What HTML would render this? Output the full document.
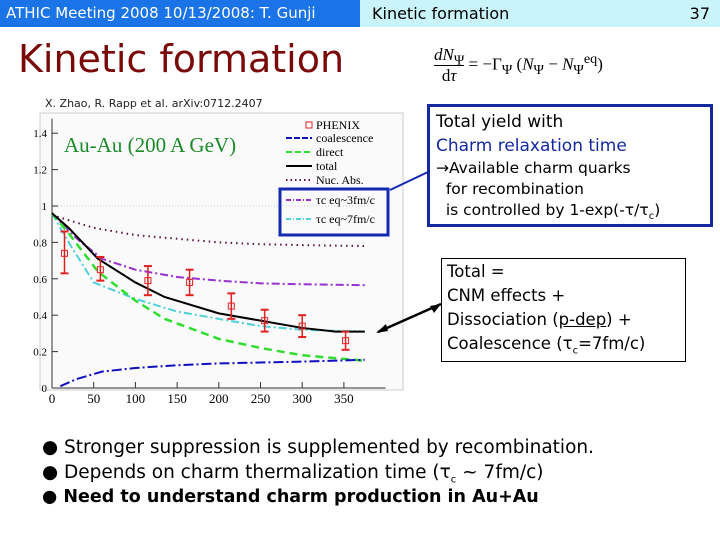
<!DOCTYPE html>
<html><head><meta charset="utf-8"><style>
body{margin:0;width:720px;height:540px;overflow:hidden;background:#fff;font-family:"DejaVu Sans","Liberation Sans",sans-serif;position:relative}
.abs{position:absolute}
sub{line-height:0}
</style></head><body>
<div class="abs" style="left:0;top:0;width:360px;height:27px;background:#1a74e8;color:#fff;font-size:15px;line-height:27px;padding-left:6px;box-sizing:border-box">ATHIC Meeting 2008 10/13/2008: T. Gunji</div>
<div class="abs" style="left:360px;top:0;width:360px;height:27px;background:#c9f4f9;color:#000;font-size:16px;line-height:27px;padding-left:12px;box-sizing:border-box">Kinetic formation<span style="position:absolute;right:10px">37</span></div>
<div class="abs" style="left:18px;top:36px;font-size:38px;color:#7a0a0a;line-height:46px">Kinetic formation</div>
<div class="abs" style="left:428px;top:31px;width:244px;height:56px;background:#fff;font-family:'Liberation Serif',serif;font-size:17px;line-height:56px;padding-left:6px;box-sizing:border-box">
<span style="display:inline-block;vertical-align:middle;text-align:center;line-height:20px"><i>dN</i><sub>Ψ</sub><br><span style="border-top:1px solid #000;display:block">d<i>τ</i></span></span> = −Γ<sub>Ψ</sub> (<i>N</i><sub>Ψ</sub> − <i>N</i><sub>Ψ</sub><sup>eq</sup>)</div>
<div class="abs" style="left:45px;top:97px;font-size:11px;color:#222">X. Zhao, R. Rapp et al. arXiv:0712.2407</div>
<svg class="abs" style="left:0;top:0" width="720" height="540" id="chart"></svg>
<div class="abs" style="left:427px;top:104px;width:286px;height:123px;border:3px solid #1428a0;box-sizing:border-box;padding:3px 0 0 6px;font-size:17px;line-height:24px">
<div>Total yield with</div><div style="color:#1428a0">Charm relaxation time</div>
<div style="font-size:15.5px;line-height:21px">→Available charm quarks<br>&nbsp; for recombination<br>&nbsp; is controlled by 1-exp(-τ/τ<sub style="font-size:10px">c</sub>)</div></div>
<div class="abs" style="left:441px;top:258px;width:245px;height:104px;border:1px solid #000;box-sizing:border-box;padding:1px 0 0 5px;font-size:16.5px;line-height:24px">Total =<br>CNM effects +<br>Dissociation (<u>p-dep</u>) +<br>Coalescence (τ<sub style="font-size:10px">c</sub>=7fm/c)</div>
<div class="abs" style="left:42px;top:436px;font-size:18.5px;line-height:24.5px;white-space:nowrap">
<div>● Stronger suppression is supplemented by recombination.</div>
<div>● Depends on charm thermalization time (τ<sub style="font-size:10px">c</sub> ~ 7fm/c)</div>
<div style="font-weight:bold;font-size:17.5px">● Need to understand charm production in Au+Au</div></div>
<script>
const xTicks=[0,50,100,150,200,250,300,350];
const yTicks=[0,0.2,0.4,0.6,0.8,1,1.2,1.4];
const dataX=[15,58,115,165,215,255,300,352];
const dataY=[0.74,0.65,0.59,0.58,0.45,0.37,0.34,0.26];
const dataLo=[0.63,0.59,0.51,0.51,0.38,0.31,0.28,0.21];
const dataHi=[0.86,0.72,0.67,0.65,0.52,0.43,0.40,0.31];
const totalX=[0,20,55,100,135,200,250,300,340,375];
const totalY=[0.96,0.88,0.71,0.58,0.50,0.41,0.37,0.33,0.31,0.31];
const directX=[0,20,55,100,135,200,250,300,375];
const directY=[0.96,0.85,0.64,0.48,0.38,0.27,0.22,0.18,0.15];
const coalX=[10,30,60,100,150,200,250,300,375];
const coalY=[0.01,0.05,0.09,0.11,0.125,0.135,0.14,0.145,0.155];
const nucX=[0,50,100,150,200,250,300,375];
const nucY=[0.95,0.88,0.84,0.82,0.80,0.79,0.785,0.78];
const t3X=[0,30,60,100,150,200,250,300,375];
const t3Y=[0.96,0.82,0.71,0.65,0.61,0.59,0.575,0.57,0.565];
const t7X=[0,20,50,100,150,200,250,300,375];
const t7Y=[0.96,0.80,0.58,0.49,0.42,0.38,0.34,0.32,0.31];
const svg=document.getElementById('chart');const NS='http://www.w3.org/2000/svg';
const sx=v=>52+v*0.834, sy=v=>388-v*182;
function el(t,a,p){const e=document.createElementNS(NS,t);for(const k in a)e.setAttribute(k,a[k]);(p||svg).appendChild(e);return e;}
const g=el('g',{});
const bg=el('rect',{x:40,y:113,width:363,height:277,fill:'#fafafa',stroke:'#ccc'},g);

el('line',{x1:sx(0),y1:sy(1),x2:sx(380),y2:sy(1),stroke:'#ccc','stroke-dasharray':'1,2'},g);
el('line',{x1:sx(0),y1:sy(0),x2:sx(0),y2:sy(1.48),stroke:'#333'},g);
el('line',{x1:sx(0),y1:sy(0),x2:sx(400),y2:sy(0),stroke:'#333'},g);
xTicks.forEach(v=>{el('line',{x1:sx(v),y1:sy(0),x2:sx(v),y2:sy(0)-6,stroke:'#333'},g);
const t=el('text',{x:sx(v),y:403,'font-size':13,'text-anchor':'middle','font-family':'Liberation Serif,serif'},g);t.textContent=v;
});
yTicks.forEach(v=>{el('line',{x1:sx(0),y1:sy(v),x2:sx(0)+6,y2:sy(v),stroke:'#333'},g);
const t=el('text',{x:47,y:sy(v)+4,'font-size':11,'text-anchor':'end','font-family':'Liberation Serif,serif'},g);t.textContent=v;
});
function line(xs,ys,col,w,dash,name){const p=el('polyline',{points:xs.map((x,i)=>sx(x)+','+sy(ys[i])).join(' '),fill:'none',stroke:col,'stroke-width':w,'stroke-dasharray':dash},g);
}
line(nucX,nucY,'#5a1040',2,'1.5,4','nuc-abs-line');
line(t3X,t3Y,'#9a30d0',2,'8,3,2,3','tau3-line');
line(t7X,t7Y,'#50d0d8',2,'8,3,2,3','tau7-line');
line(directX,directY,'#30dd30',2.5,'8,5','direct-line');
line(coalX,coalY,'#1010c0',2,'10,3,2,3','coalescence-line');
line(totalX,totalY,'#000',2,'','total-line');
dataX.forEach((x,i)=>{const c=el('g',{},g);
el('line',{x1:sx(x),y1:sy(dataLo[i]),x2:sx(x),y2:sy(dataHi[i]),stroke:'#e02020','stroke-width':1.5},c);
[dataLo[i],dataHi[i]].forEach(v=>el('line',{x1:sx(x)-4,y1:sy(v),x2:sx(x)+4,y2:sy(v),stroke:'#e02020','stroke-width':2},c));
el('rect',{x:sx(x)-3,y:sy(dataY[i])-3,width:6,height:6,fill:'none',stroke:'#e02020'},c);});
const tt=el('text',{x:64,y:152,'font-size':21,fill:'#1a8a2a','font-family':'Liberation Serif,serif'},g);tt.textContent='Au-Au (200 A GeV)';

const leg=[['PHENIX','sq'],['coalescence','#1010c0','6,2'],['direct','#30dd30','6,3'],['total','#000',''],['Nuc. Abs.','#5a1040','1.5,3'],['τc eq~3fm/c','#9a30d0','5,2,1,2'],['τc eq~7fm/c','#50d0d8','5,2,1,2']];
const ly=[128,141,155,169,183,203,222];
leg.forEach((l,i)=>{const e=el('g',{},g);
if(l[1]==='sq')el('rect',{x:306,y:ly[i]-6,width:6,height:6,fill:'none',stroke:'#e02020'},e);
else el('line',{x1:286,y1:ly[i]-3,x2:312,y2:ly[i]-3,stroke:l[1],'stroke-width':2,'stroke-dasharray':l[2]},e);
const t=el('text',{x:316,y:ly[i]+1,'font-size':12,'font-family':'Liberation Serif,serif'},e);t.textContent=l[0];});
const lb=el('rect',{x:280,y:189,width:108,height:46,fill:'none',stroke:'#1428b0','stroke-width':3},g);

const a1=el('line',{x1:390,y1:190,x2:428,y2:172,stroke:'#1428b0','stroke-width':2},g);

const a2=el('line',{x1:378,y1:332,x2:441,y2:304,stroke:'#000','stroke-width':2.5},g);

el('polygon',{points:'376,333 386,324 388,331',fill:'#000'},g);
el('polygon',{points:'441,304 430,306 434,313',fill:'#000'},g);
</script>
</body></html>
